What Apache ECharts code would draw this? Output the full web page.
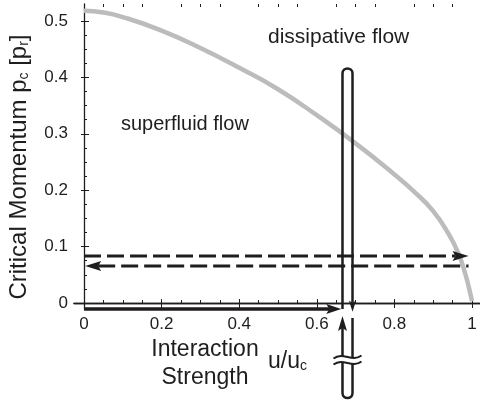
<!DOCTYPE html>
<html>
<head>
<meta charset="utf-8">
<script src="https://cdn.jsdelivr.net/npm/echarts@6/dist/echarts.min.js"></script>
<style>
html, body { margin: 0; padding: 0; background: #fff; }
#chart { width: 480px; height: 409px; }
</style>
</head>
<body>
<div id="chart"></div>
<script>
// critical momentum vs interaction strength
var uValues  = [0, 0.05, 0.1, 0.2, 0.3, 0.4, 0.5, 0.6, 0.7, 0.8, 0.85, 0.9, 0.94, 0.965, 0.98, 0.99, 1.0];
var pcValues = [0.518, 0.515, 0.507, 0.483, 0.452, 0.417, 0.379, 0.333, 0.283, 0.228, 0.198, 0.163, 0.122, 0.088, 0.058, 0.033, 0.003];

var xTicks = [0, 0.2, 0.4, 0.6, 0.8, 1];
var xMinorTicks = [0.05, 0.1, 0.15, 0.25, 0.3, 0.35, 0.45, 0.5, 0.55, 0.65, 0.7, 0.75, 0.85, 0.9, 0.95];
var yTicks = [0, 0.1, 0.2, 0.3, 0.4, 0.5];
var yMinorTicks = [0.025, 0.05, 0.075, 0.125, 0.15, 0.175, 0.225, 0.25, 0.275, 0.325, 0.35, 0.375, 0.425, 0.45, 0.475];
var xRange = [-0.0258, 1.0206];
var yRange = [-0.0106, 0.5301];

// flow diagram arrows, in axis units
var upperArrow = [[0, 0.0833], [0.991, 0.0833]];   // -> right
var lowerArrow = [[0.991, 0.0656], [0.003, 0.0656]]; // -> left
var axisArrow = [[0, -0.0106], [0.663, -0.0106]];
var rodLegs = [0.6662, 0.692];
var rodTop = 0.4158;
var rodDownTip = -0.0155;
var rodUpTip = -0.0230;
var rodLowerStart = -0.0265;
var rodBreak = [-0.0957, -0.1064];
var rodBottom = -0.1684;

var ink = '#1f1d1e';
var font = '"Liberation Sans", Arial, Helvetica, sans-serif';

function renderFlow(params, api) {
  var kids = [];
  function pt(p) { return api.coord(p); }
  function head(tip, from, len, half, notch) {
    var dx = tip[0] - from[0], dy = tip[1] - from[1];
    var d = Math.sqrt(dx * dx + dy * dy);
    var ux = dx / d, uy = dy / d, nx = -uy, ny = ux;
    var bx = tip[0] - ux * len, by = tip[1] - uy * len;
    var base = [tip[0] - ux * (len - notch), tip[1] - uy * (len - notch)];
    kids.push({
      type: 'polygon',
      shape: { points: [tip, [bx + nx * half, by + ny * half], base, [bx - nx * half, by - ny * half]] },
      style: { fill: ink }
    });
    return base;
  }
  function seg(a, b, w, dash) {
    kids.push({
      type: 'line',
      shape: { x1: a[0], y1: a[1], x2: b[0], y2: b[1] },
      style: { stroke: ink, lineWidth: w, lineDash: dash || null }
    });
  }
  function path(d, w) {
    kids.push({ type: 'path', shape: { pathData: d }, style: { stroke: ink, fill: null, lineWidth: w } });
  }

  // dashed arrows
  var a0 = pt(upperArrow[0]), a1 = pt(upperArrow[1]);
  seg(a0, head(a1, a0, 16, 5, 3), 3, [17, 6]);
  var b0 = pt(lowerArrow[0]), b1 = pt(lowerArrow[1]);
  seg(head(b1, b0, 16, 5, 3), b0, 3, [17, 6]);

  // thick arrow along the axis
  var c0 = pt(axisArrow[0]), c1 = pt(axisArrow[1]);
  seg(c0, head(c1, c0, 15, 5, 3), 3.5);

  // the hairpin rod
  var lx = pt([rodLegs[0], 0])[0], rx = pt([rodLegs[1], 0])[0];
  var r = (rx - lx) / 2;
  var topY = pt([0, rodTop])[1];
  var axisY = pt([0, yRange[0]])[1];
  var downTip = [rx, pt([0, rodDownTip])[1]];
  var downBase = head(downTip, [rx, downTip[1] - 10], 11, 3.5, 2);
  path('M' + lx + ',' + axisY + ' L' + lx + ',' + (topY + r) +
       ' C' + lx + ',' + (topY - r / 3) + ' ' + rx + ',' + (topY - r / 3) + ' ' + rx + ',' + (topY + r) +
       ' L' + rx + ',' + downBase[1], 2.5);

  var upTip = [lx, pt([0, rodUpTip])[1]];
  var upBase = head(upTip, [lx, upTip[1] + 10], 15, 4.5, 3);
  var brTop = pt([0, rodBreak[0]])[1], brBot = pt([0, rodBreak[1]])[1];
  var lowStart = pt([0, rodLowerStart])[1];
  var botY = pt([0, rodBottom])[1];
  path('M' + lx + ',' + upBase[1] + ' L' + lx + ',' + brTop, 2.5);
  path('M' + rx + ',' + lowStart + ' L' + rx + ',' + brTop, 2.5);
  path('M' + lx + ',' + brBot + ' L' + lx + ',' + (botY - r) +
       ' C' + lx + ',' + (botY + r / 3) + ' ' + rx + ',' + (botY + r / 3) + ' ' + rx + ',' + (botY - r) +
       ' L' + rx + ',' + brBot, 2.5);

  // break marks
  var cx = (lx + rx) / 2, x0 = cx - 14, x1 = cx + 14;
  [brTop, brBot].forEach(function (y) {
    path('M' + x0 + ',' + (y + 1.5) + ' C' + (x0 + 10) + ',' + (y - 6) + ' ' + (x1 - 10) + ',' + (y + 6) + ' ' + x1 + ',' + (y - 1.5), 2);
  });

  return { type: 'group', children: kids };
}

var tickLabel = { color: ink, fontSize: 17, fontFamily: font };

var option = {
  animation: false,
  backgroundColor: '#fff',
  grid: { left: 74, right: 0, top: 4, bottom: 100 },
  xAxis: [
    {
      type: 'value', position: 'bottom', min: xRange[0], max: xRange[1],
      axisLine: { lineStyle: { color: ink, width: 1.3 } },
      axisTick: { inside: true, length: 4, customValues: xTicks, lineStyle: { color: ink } },
      axisLabel: Object.assign({ customValues: xTicks, margin: 7 }, tickLabel),
      splitLine: { show: false }
    },
    {
      type: 'value', position: 'top', min: xRange[0], max: xRange[1],
      axisLine: { lineStyle: { color: ink, width: 1.3 } },
      axisTick: { inside: true, length: 5, customValues: xTicks, lineStyle: { color: ink } },
      axisLabel: { show: false }, splitLine: { show: false }
    },
    {
      type: 'value', position: 'bottom', min: xRange[0], max: xRange[1],
      axisLine: { show: false },
      axisTick: { inside: true, length: 3, customValues: xMinorTicks, lineStyle: { color: ink } },
      axisLabel: { show: false }, splitLine: { show: false }
    },
    {
      type: 'value', position: 'top', min: xRange[0], max: xRange[1],
      axisLine: { show: false },
      axisTick: { inside: true, length: 3, customValues: xMinorTicks, lineStyle: { color: ink } },
      axisLabel: { show: false }, splitLine: { show: false }
    }
  ],
  yAxis: [
    {
      type: 'value', position: 'left', min: yRange[0], max: yRange[1],
      axisLine: { show: true, lineStyle: { color: ink, width: 1.3 } },
      axisTick: { show: true, inside: true, length: 5, customValues: yTicks, lineStyle: { color: ink } },
      axisLabel: Object.assign({ customValues: yTicks, margin: 6 }, tickLabel),
      splitLine: { show: false }
    },
    {
      type: 'value', position: 'left', min: yRange[0], max: yRange[1],
      axisLine: { show: false },
      axisTick: { show: true, inside: true, length: 3, customValues: yMinorTicks, lineStyle: { color: ink } },
      axisLabel: { show: false }, splitLine: { show: false }
    },
    {
      type: 'value', position: 'right', min: yRange[0], max: yRange[1],
      axisLine: { show: false },
      axisTick: { show: true, inside: true, length: 3, customValues: yTicks, lineStyle: { color: ink } },
      axisLabel: { show: false }, splitLine: { show: false }
    }
  ],
  graphic: [
    {
      type: 'text', x: 19, y: 167, rotation: Math.PI / 2,
      style: {
        text: 'Critical Momentum p{s|c} [p{s|r}]',
        font: '24px ' + font, fill: ink, align: 'center', verticalAlign: 'middle',
        rich: { s: { fontSize: 14, fontFamily: font, fill: ink, verticalAlign: 'bottom', lineHeight: 14 } }
      }
    },
    {
      type: 'text', x: 205, y: 336,
      style: { text: 'Interaction\nStrength', font: '23px ' + font, fill: ink, align: 'center', verticalAlign: 'top', lineHeight: 28 }
    },
    {
      type: 'text', x: 268, y: 362,
      style: {
        text: 'u/u{s|c}', font: '23px ' + font, fill: ink, align: 'left', verticalAlign: 'middle',
        rich: { s: { fontSize: 14, fontFamily: font, fill: ink, verticalAlign: 'bottom', lineHeight: 14 } }
      }
    },
    {
      type: 'text', x: 121, y: 124,
      style: { text: 'superfluid flow', font: '20px ' + font, fill: ink, align: 'left', verticalAlign: 'middle' }
    },
    {
      type: 'text', x: 268, y: 37,
      style: { text: 'dissipative flow', font: '21px ' + font, fill: ink, align: 'left', verticalAlign: 'middle' }
    }
  ],
  series: [
    {
      type: 'line',
      data: uValues.map(function (u, i) { return [u, pcValues[i]]; }),
      smooth: 0.5, showSymbol: false,
      lineStyle: { color: '#bcbcbc', width: 4.5 },
      z: 2
    },
    {
      type: 'custom',
      renderItem: renderFlow,
      data: [[0, 0]],
      clip: false,
      silent: true,
      z: 5
    }
  ]
};

var chart = echarts.init(document.getElementById('chart'));
chart.setOption(option);
</script>
</body>
</html>
